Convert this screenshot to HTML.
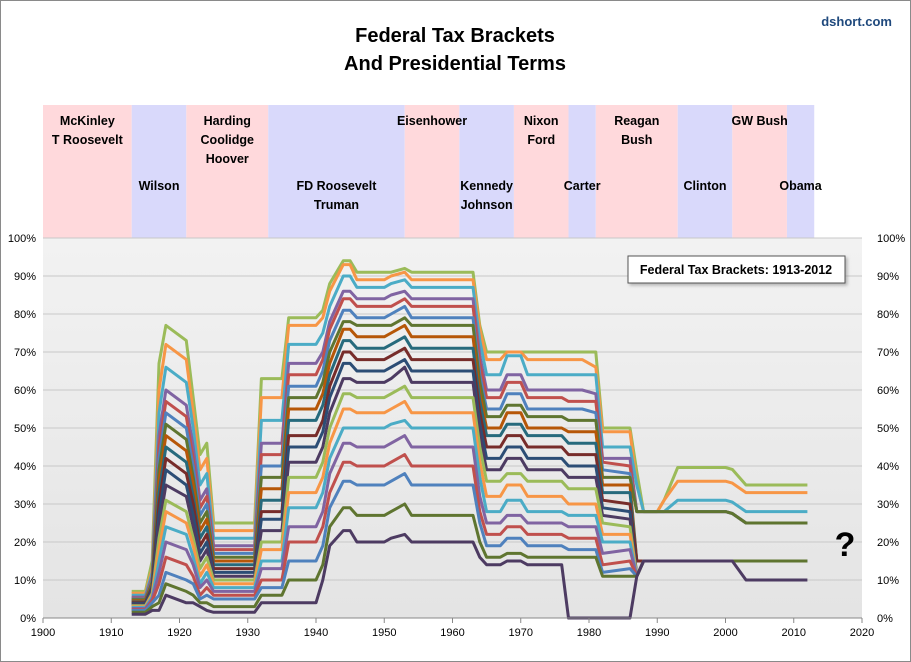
<!DOCTYPE html>
<html><head><meta charset="utf-8">
<style>
body{margin:0;background:#fff;font-family:"Liberation Sans",sans-serif;}
#wrap{position:relative;width:911px;height:662px;overflow:hidden;}
svg text{font-family:"Liberation Sans",sans-serif;}
</style></head>
<body>
<div id="wrap">
<svg id="chart" width="911" height="662" viewBox="0 0 911 662">
<defs>
<linearGradient id="bg" x1="0" y1="0" x2="0" y2="1">
<stop offset="0" stop-color="#f2f2f2"/><stop offset="1" stop-color="#e4e4e4"/>
</linearGradient>
<filter id="sh" x="-10%" y="-10%" width="130%" height="150%"><feDropShadow dx="2" dy="2" stdDeviation="1.5" flood-color="#888" flood-opacity="0.6"/></filter>
</defs>
<rect x="0.5" y="0.5" width="910" height="661" fill="#fff" stroke="#8a8a8a"/>
<text x="455" y="42" text-anchor="middle" font-size="20" font-weight="bold" fill="#000">Federal Tax Brackets</text>
<text x="455" y="70" text-anchor="middle" font-size="20" font-weight="bold" fill="#000">And Presidential Terms</text>
<text x="892" y="26" text-anchor="end" font-size="13" font-weight="bold" fill="#1f497d">dshort.com</text>
<g id="bands"></g>
<g id="bandLabels"></g>
<rect x="43" y="238" width="819" height="380" fill="url(#bg)"/>
<g id="grid"></g>
<g id="series"></g>
<g id="axes"></g>
<g filter="url(#sh)">
<rect x="628" y="256" width="217" height="27" fill="#fff" stroke="#555"/>
</g>
<text x="736" y="274" text-anchor="middle" font-size="12.5" font-weight="bold" fill="#000">Federal Tax Brackets: 1913-2012</text>
<text x="845" y="556" text-anchor="middle" font-size="34" font-weight="bold" fill="#000">?</text>
</svg>
</div>
<script>
const terms = ["McKinley|T Roosevelt","Wilson","Harding|Coolidge|Hoover","FD Roosevelt|Truman","Eisenhower","Kennedy|Johnson","Nixon|Ford","Carter","Reagan|Bush","Clinton","GW Bush","Obama"];
const termStart = [1900,1913,1921,1933,1953,1961,1969,1977,1981,1993,2001,2009];
const termEnd = [1913,1921,1933,1953,1961,1969,1977,1981,1993,2001,2009,2013];
const termLabelRow = [0,1,0,1,0,1,0,1,0,1,0,1];
const keyYears = [1913,1915,1916,1917,1918,1921,1922,1923,1924,1925,1931,1932,1935,1936,1940,1941,1942,1944,1945,1946,1950,1951,1953,1954,1963,1964,1965,1967,1968,1970,1971,1976,1977,1979,1981,1982,1986,1987,1988,1990,1991,1993,2000,2001,2003,2012];
const s0 = [7,7,15,67,77,73,58,43,46,25,25,63,63,79,79,81,88,94,94,91,91,91,92,91,91,77,70,70,70,70,70,70,70,70,70,50,50,38.5,28,28,31,39.6,39.6,39.1,35,35];
const s1 = [6.5,6.5,13,60,72,68,54,39,42,23,23,58,58,77,77,79,86,93,93,89,89,90,91,89,89,76,68,68,70,70,68,68,68,68,66,49,49,35,28,28,31,36,36,35.5,33,33];
const s2 = [6,6,12,54,66,62,50,35,38,21,21,52,52,72,72,75,82,90,90,87,87,88,89,87,87,73,64,64,69,69,64,64,64,64,64,45,45,35,28,28,28,31,31,30.5,28,28];
const s3 = [5.5,5.5,11,48,60,56,45,31,34,19,19,46,46,67,67,70,78,86,86,84,84,85,86,84,84,69,60,60,64,64,60,60,60,60,59,42,42,28,28,28,28,28,28,27.5,25,25];
const sH = [5.2,5.2,10.5,45,57,53,42,29,32,18,18,43,43,64,64,68,76,84,84,82,82,82,84,82,82,67,58,58,62,62,58,58,57,57,57,41,40,28,28,28,28,28,28,27.5,25,25];
const s4 = [5,5,10,42,54,50,40,27,30,17,17,40,40,61,61,65,73,81,81,79,79,80,82,79,79,64,55,55,59,59,55,55,55,55,54,39,38,28,28,28,28,28,28,27.5,25,25];
const sA = [4.8,4.8,9.5,39,51,47,37,25,28,16,16,37,37,58,58,62,70,78,78,77,77,77,79,77,77,62,53,53,56,56,53,53,52,52,52,37,37,28,28,28,28,28,28,27.5,25,25];
const s5 = [4.5,4.5,9,36,48,44,35,23,26,15,15,34,34,55,55,59,67,76,76,74,74,75,77,74,74,59,50,50,54,54,50,50,49,49,49,35,35,15,15,15,15,15,15,15,15,15];
const sB = [4.2,4.2,8.5,33,45,41,32,21,24,14,14,31,31,52,52,56,64,73,73,71,71,72,74,71,71,57,48,48,51,51,48,48,46,46,46,33,33,15,15,15,15,15,15,15,15,15];
const s6 = [4,4,8,30,42,38,30,19,22,13,13,28,28,48,48,52,61,70,70,68,68,69,71,68,68,54,45,45,48,48,45,45,43,43,43,31,30,15,15,15,15,15,15,15,15,15];
const sC = [3.8,3.8,7.5,27,39,35,27,17,20,12,12,26,26,45,45,49,58,67,67,65,65,66,68,65,65,51,42,42,45,45,42,42,40,40,40,29,28,11,15,15,15,15,15,15,15,15];
const s7 = [3.5,3.5,7,24,35,32,24,15,18,11,11,23,23,41,41,45,54,63,63,62,62,63,66,62,62,48,39,39,42,42,39,39,37,37,37,27,26,11,15,15,15,15,15,15,15,15];
const sD = [3.2,3.2,6.5,21,31,28,21,13,16,10,10,20,20,37,37,41,50,59,59,58,58,59,61,58,58,45,36,36,38,38,36,36,34,34,34,25,24,11,15,15,15,15,15,15,15,15];
const s8 = [3,3,6,18,28,25,19,11,14,9,9,18,18,33,33,37,46,55,55,54,54,55,57,54,54,41,32,32,35,35,32,32,30,30,30,22,22,11,15,15,15,15,15,15,15,15];
const sE = [2.8,2.8,5.5,15,24,22,16,9,12,8,8,15,15,29,29,33,42,50,50,50,50,51,52,50,50,37,28,28,31,31,28,28,27,27,27,20,20,11,15,15,15,15,15,15,15,15];
const s9 = [2.5,2.5,5,12,20,18,14,8,10,7,7,13,13,24,24,28,38,46,46,45,45,46,48,45,45,32,25,25,27,27,25,25,24,24,24,17,18,11,15,15,15,15,15,15,15,15];
const sF = [2.2,2.2,4.5,9,16,14,11,6,8,6,6,10,10,20,20,24,33,41,41,40,40,41,43,40,40,28,22,22,24,24,22,22,21,21,21,14,15,11,15,15,15,15,15,15,15,15];
const s10 = [2,2,4,6,12,10,9,5,6,5,5,8,8,15,15,19,29,36,36,35,35,36,38,35,35,25,19,19,21,21,19,19,18,18,18,12,13,11,15,15,15,15,15,15,15,15];
const sG = [1.5,1.5,3,4,9,7,6,4,4,3,3,6,6,10,10,14,24,29,29,27,27,28,30,27,27,20,16,16,17,17,16,16,16,16,16,11,11,11,15,15,15,15,15,15,15,15];
const s11 = [1,1,2,2,6,4,4,3,2,1.5,1.5,4,4,4,4,10,19,23,23,20,20,21,22,20,20,16,14,14,15,15,14,14,0,0,0,0,0,11,15,15,15,15,15,15,10,10];
const yTicks = [0,10,20,30,40,50,60,70,80,90,100];
const xTicks = [1900,1910,1920,1930,1940,1950,1960,1970,1980,1990,2000,2010,2020];
const colors = ["#9bbb59","#f79646","#4bacc6","#8064a2","#c0504d","#4f81bd","#5f7530","#b65708","#276a7c","#772c2a","#2c4d75","#4d3b62","#9bbb59","#f79646","#4bacc6","#8064a2","#c0504d","#4f81bd","#5f7530","#4d3b62"];

const allSeries = [s0,s1,s2,s3,sH,s4,sA,s5,sB,s6,sC,s7,sD,s8,sE,s9,sF,s10,sG,s11];
const NS = "http://www.w3.org/2000/svg";
function xS(yr){return 43+(yr-1900)*(819/120);}
function yS(v){return 618-v*3.8;}
function mk(tag,attrs){const e=document.createElementNS(NS,tag);for(const k in attrs)e.setAttribute(k,attrs[k]);return e;}

const bands=document.getElementById('bands');
const bandLabels=document.getElementById('bandLabels');
terms.forEach((t,i)=>{
  const r=mk('rect',{x:xS(termStart[i]),y:105,width:xS(termEnd[i])-xS(termStart[i]),height:133,fill:i%2===0?'#ffd9dc':'#d9d9fb'});
  
  
  bands.appendChild(r);
  const lines=t.split('|');
  const cx=(xS(termStart[i])+xS(termEnd[i]))/2;
  const y0=termLabelRow[i]===0?125:190;
  lines.forEach((ln,j)=>{
    const tx=mk('text',{x:cx,y:y0+j*19,'text-anchor':'middle','font-size':12.5,'font-weight':'bold',fill:'#000'});
    tx.textContent=ln;
    
    
    bandLabels.appendChild(tx);
  });
});

const grid=document.getElementById('grid');
const axes=document.getElementById('axes');
yTicks.forEach(v=>{
  if(v>0){const g=mk('line',{x1:43,x2:862,y1:yS(v),y2:yS(v),stroke:'#c8c8c8','stroke-width':1});
  
  
  grid.appendChild(g);}
  const l=mk('text',{x:36,y:yS(v)+4,'text-anchor':'end','font-size':11,fill:'#000'});
  l.textContent=v+'%';
  
  
  axes.appendChild(l);
  const r=mk('text',{x:877,y:yS(v)+4,'text-anchor':'start','font-size':11,fill:'#000'});
  r.textContent=v+'%';
  
  
  axes.appendChild(r);
});
const xa=mk('line',{x1:43,x2:862,y1:618,y2:618,stroke:'#888'});


axes.appendChild(xa);
xTicks.forEach(yr=>{
  const tk=mk('line',{x1:xS(yr),x2:xS(yr),y1:618,y2:623,stroke:'#888'});
  
  
  axes.appendChild(tk);
  const l=mk('text',{x:xS(yr),y:636,'text-anchor':'middle','font-size':11,fill:'#000'});
  l.textContent=yr;
  
  
  axes.appendChild(l);
});

const sg=document.getElementById('series');
allSeries.forEach((s,i)=>{
  const pts=keyYears.map((yr,k)=>xS(yr).toFixed(1)+','+yS(s[k]).toFixed(1)).join(' ');
  const p=mk('polyline',{points:pts,fill:'none',stroke:colors[i%colors.length],'stroke-width':3,'stroke-linejoin':'round'});
  
  
  sg.appendChild(p);
});
</script>
</body></html>
